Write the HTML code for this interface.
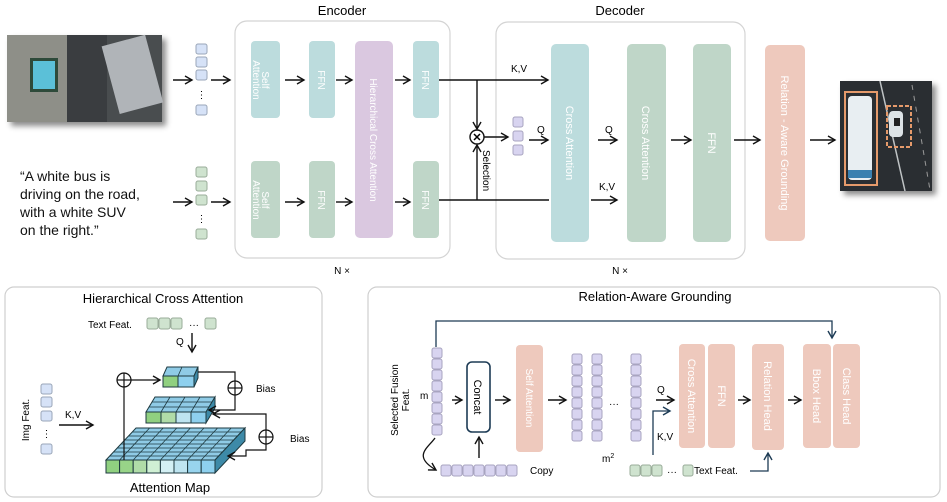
<!DOCTYPE html>
<html><head><meta charset="utf-8"><style>
html,body{margin:0;padding:0;background:#fff;}
svg{display:block;font-family:"Liberation Sans",sans-serif;}
.bl{font-size:10px;fill:#fff;}
</style></head><body>
<svg width="947" height="502" viewBox="0 0 947 502" xmlns="http://www.w3.org/2000/svg">
<defs>
<marker id="a" markerWidth="10" markerHeight="10" refX="8" refY="5" orient="auto" markerUnits="userSpaceOnUse"><path d="M1,1 L8,5 L1,9" fill="none" stroke="#111" stroke-width="1.4"/></marker>
<marker id="ab" markerWidth="10" markerHeight="10" refX="8" refY="5" orient="auto" markerUnits="userSpaceOnUse"><path d="M1,1 L8,5 L1,9" fill="none" stroke="#1d3b55" stroke-width="1.4"/></marker>
<filter id="sh" x="-10%" y="-10%" width="130%" height="130%"><feDropShadow dx="4" dy="4" stdDeviation="3" flood-color="#000" flood-opacity="0.45"/></filter>
</defs>

<!-- top-left image -->
<g filter="url(#sh)">
<rect x="7" y="35" width="155" height="87" fill="#4a4e50"/>
</g>
<rect x="7" y="35" width="60" height="87" fill="#8e8f88"/>
<rect x="30" y="58" width="28" height="34" fill="#2e4a3a"/>
<rect x="33" y="61" width="22" height="28" fill="#5bc0d8"/>
<rect x="67" y="35" width="40" height="87" fill="#3a3d40"/>
<rect x="110" y="40" width="45" height="70" fill="#b0b4b8" transform="rotate(-15 130 75)"/>

<!-- blue tokens top -->
<g fill="#d6e2f7" stroke="#9aa6b8" stroke-width="1">
<rect x="196" y="44" width="11" height="10" rx="2"/><rect x="196" y="57" width="11" height="10" rx="2"/><rect x="196" y="70" width="11" height="10" rx="2"/><rect x="196" y="105" width="11" height="10" rx="2"/>
</g>
<text x="201.5" y="98" font-size="10" text-anchor="middle">⋮</text>
<line x1="173" y1="80" x2="192" y2="80" stroke="#111" stroke-width="1.4" marker-end="url(#a)"/>
<line x1="211" y1="80" x2="230" y2="80" stroke="#111" stroke-width="1.4" marker-end="url(#a)"/>

<!-- text quote -->
<g font-size="14" fill="#111">
<text x="20" y="181">“A white bus is</text>
<text x="20" y="199">driving on the road,</text>
<text x="20" y="217">with a white SUV</text>
<text x="20" y="235">on the right.”</text>
</g>
<g fill="#cfe3cf" stroke="#9aac9a" stroke-width="1">
<rect x="196" y="167" width="11" height="10" rx="2"/><rect x="196" y="181" width="11" height="10" rx="2"/><rect x="196" y="195" width="11" height="10" rx="2"/><rect x="196" y="229" width="11" height="10" rx="2"/>
</g>
<text x="201.5" y="222" font-size="10" text-anchor="middle">⋮</text>
<line x1="173" y1="202" x2="192" y2="202" stroke="#111" stroke-width="1.4" marker-end="url(#a)"/>
<line x1="211" y1="202" x2="230" y2="202" stroke="#111" stroke-width="1.4" marker-end="url(#a)"/>

<!-- Encoder -->
<text x="342" y="15" font-size="13" text-anchor="middle">Encoder</text>
<rect x="235" y="21" width="215" height="237" rx="12" fill="#fff" stroke="#d4d4d4" stroke-width="1.2"/>
<rect x="251" y="41" width="29" height="77" rx="4" fill="#bcdcdd"/>
<rect x="309" y="41" width="26" height="77" rx="4" fill="#bcdcdd"/>
<rect x="355" y="41" width="38" height="197" rx="5" fill="#dac8e0"/>
<rect x="413" y="41" width="26" height="77" rx="4" fill="#bcdcdd"/>
<rect x="251" y="161" width="29" height="77" rx="4" fill="#bfd6c8"/>
<rect x="309" y="161" width="26" height="77" rx="4" fill="#bfd6c8"/>
<rect x="413" y="161" width="26" height="77" rx="4" fill="#bfd6c8"/>
<g class="bl">
<text transform="translate(262,80) rotate(90)" text-anchor="middle">Self</text>
<text transform="translate(253,80) rotate(90)" text-anchor="middle">Attention</text>
<text transform="translate(318,80) rotate(90)" text-anchor="middle">FFN</text>
<text transform="translate(422,80) rotate(90)" text-anchor="middle">FFN</text>
<text transform="translate(262,200) rotate(90)" text-anchor="middle">Self</text>
<text transform="translate(253,200) rotate(90)" text-anchor="middle">Attention</text>
<text transform="translate(318,200) rotate(90)" text-anchor="middle">FFN</text>
<text transform="translate(422,200) rotate(90)" text-anchor="middle">FFN</text>
<text transform="translate(370,140) rotate(90)" text-anchor="middle">Hierarchical Cross Attention</text>
</g>
<g stroke="#111" stroke-width="1.4" marker-end="url(#a)">
<line x1="285" y1="80" x2="304" y2="80"/><line x1="336" y1="80" x2="352" y2="80"/><line x1="395" y1="80" x2="410" y2="80"/>
<line x1="285" y1="202" x2="304" y2="202"/><line x1="336" y1="202" x2="352" y2="202"/><line x1="395" y1="202" x2="410" y2="202"/>
</g>
<text x="342" y="274" font-size="10" text-anchor="middle">N ×</text>

<!-- Decoder -->
<text x="620" y="15" font-size="13" text-anchor="middle">Decoder</text>
<rect x="496" y="22" width="249" height="237" rx="12" fill="#fff" stroke="#d4d4d4" stroke-width="1.2"/>
<text x="620" y="274" font-size="10" text-anchor="middle">N ×</text>

<!-- connectors -->
<line x1="439" y1="80" x2="548" y2="80" stroke="#111" stroke-width="1.4" marker-end="url(#a)"/>
<line x1="439" y1="200" x2="549" y2="200" stroke="#111" stroke-width="1.4"/>
<line x1="477" y1="80" x2="477" y2="129" stroke="#111" stroke-width="1.4" marker-end="url(#a)"/>
<line x1="477" y1="200" x2="477" y2="145" stroke="#111" stroke-width="1.4" marker-end="url(#a)"/>
<circle cx="477" cy="137" r="7" fill="#fff" stroke="#111" stroke-width="1.4"/>
<text x="477" y="141" font-size="11" font-weight="bold" text-anchor="middle">✕</text>
<line x1="484" y1="137" x2="508" y2="137" stroke="#111" stroke-width="1.4" marker-end="url(#a)"/>
<text transform="translate(483,150) rotate(90)" font-size="10">Selection</text>
<text x="519" y="72" font-size="10" text-anchor="middle">K,V</text>
<g fill="#d8d4f0" stroke="#a8a4c0" stroke-width="1">
<rect x="513" y="117" width="10" height="10" rx="2"/><rect x="513" y="131" width="10" height="10" rx="2"/><rect x="513" y="145" width="10" height="10" rx="2"/>
</g>
<line x1="529" y1="140" x2="548" y2="140" stroke="#111" stroke-width="1.4" marker-end="url(#a)"/>
<text x="537" y="133" font-size="10">Q</text>

<rect x="551" y="44" width="38" height="198" rx="5" fill="#bcdcdd"/>
<rect x="627" y="44" width="39" height="198" rx="5" fill="#bfd6c8"/>
<rect x="693" y="44" width="38" height="198" rx="5" fill="#bfd6c8"/>
<rect x="765" y="45" width="40" height="196" rx="5" fill="#eec9bd"/>
<g class="bl" font-size="11">
<text transform="translate(566,143) rotate(90)" text-anchor="middle" font-size="11">Cross Attention</text>
<text transform="translate(642,143) rotate(90)" text-anchor="middle" font-size="11">Cross Attention</text>
<text transform="translate(708,143) rotate(90)" text-anchor="middle" font-size="11">FFN</text>
<text transform="translate(781,143) rotate(90)" text-anchor="middle" font-size="11">Relation - Aware Grounding</text>
</g>
<g stroke="#111" stroke-width="1.4" marker-end="url(#a)">
<line x1="598" y1="140" x2="617" y2="140"/><line x1="671" y1="140" x2="691" y2="140"/><line x1="734" y1="140" x2="760" y2="140"/>
<line x1="591" y1="200" x2="617" y2="200"/><line x1="810" y1="140" x2="835" y2="140"/>
</g>
<text x="605" y="133" font-size="10">Q</text>
<text x="607" y="190" font-size="10" text-anchor="middle">K,V</text>

<!-- result image -->
<g filter="url(#sh)"><rect x="840" y="81" width="92" height="110" fill="#2c2f31"/></g>
<line x1="880" y1="81" x2="905" y2="191" stroke="#bfc3c5" stroke-width="1.5"/>
<line x1="912" y1="85" x2="930" y2="190" stroke="#999" stroke-width="1" stroke-dasharray="5,6"/>
<rect x="848" y="96" width="24" height="84" rx="4" fill="#e8eef2"/>
<rect x="848" y="170" width="24" height="8" fill="#3a80b0"/>
<rect x="889" y="111" width="14" height="26" rx="4" fill="#dde3e6"/>
<rect x="894" y="118" width="6" height="8" fill="#222"/>
<rect x="845" y="92" width="32" height="93" fill="none" stroke="#e59a6b" stroke-width="2"/>
<rect x="887" y="106" width="24" height="41" fill="none" stroke="#e59a6b" stroke-width="2" stroke-dasharray="4,2"/>

<!-- Bottom-left panel -->
<rect x="5" y="287" width="317" height="210" rx="9" fill="#fff" stroke="#cfcfcf" stroke-width="1.2"/>
<text x="163" y="303" font-size="13" text-anchor="middle">Hierarchical Cross Attention</text>
<text x="88" y="328" font-size="10">Text Feat.</text>
<g fill="#cfe3cf" stroke="#9aac9a" stroke-width="1">
<rect x="147" y="318" width="11" height="11" rx="2"/><rect x="159" y="318" width="11" height="11" rx="2"/><rect x="171" y="318" width="11" height="11" rx="2"/><rect x="205" y="318" width="11" height="11" rx="2"/>
</g>
<text x="194" y="328" font-size="10" text-anchor="middle">···</text>
<text x="176" y="345" font-size="10">Q</text>
<line x1="192" y1="333" x2="192" y2="352" stroke="#111" stroke-width="1.4" marker-end="url(#a)"/>
<text transform="translate(29,420) rotate(-90)" font-size="10" text-anchor="middle">Img Feat.</text>
<g fill="#d6e2f7" stroke="#9aa6b8" stroke-width="1">
<rect x="41" y="384" width="11" height="10" rx="2"/><rect x="41" y="397" width="11" height="10" rx="2"/><rect x="41" y="411" width="11" height="10" rx="2"/><rect x="41" y="444" width="11" height="10" rx="2"/>
</g>
<text x="46.5" y="437" font-size="10" text-anchor="middle">⋮</text>
<text x="65" y="418" font-size="10">K,V</text>
<line x1="59" y1="425" x2="93" y2="425" stroke="#111" stroke-width="1.4" marker-end="url(#a)"/>

<!-- bottom layer -->
<polygon points="106,460 136,428 245,428 215,460" fill="#8fcbe6" stroke="#1e3a40" stroke-width="1"/>
<g stroke="#1e3a40" stroke-width="0.8">
<line x1="110" y1="456" x2="219" y2="456"/><line x1="114" y1="452" x2="223" y2="452"/><line x1="117" y1="448" x2="226" y2="448"/><line x1="121" y1="444" x2="230" y2="444"/><line x1="125" y1="440" x2="234" y2="440"/><line x1="129" y1="436" x2="238" y2="436"/><line x1="132" y1="432" x2="241" y2="432"/>
<line x1="119.6" y1="460" x2="149.6" y2="428"/><line x1="133.2" y1="460" x2="163.2" y2="428"/><line x1="146.8" y1="460" x2="176.8" y2="428"/><line x1="160.4" y1="460" x2="190.4" y2="428"/><line x1="174" y1="460" x2="204" y2="428"/><line x1="187.6" y1="460" x2="217.6" y2="428"/><line x1="201.2" y1="460" x2="231.2" y2="428"/>
</g>
<polygon points="215,460 245,428 245,441 215,473" fill="#3d8aa8" stroke="#1e3a40" stroke-width="1"/>
<g stroke="#1e3a40" stroke-width="1">
<rect x="106" y="460" width="13.6" height="13" fill="#90d080"/><rect x="119.6" y="460" width="13.6" height="13" fill="#98d488"/><rect x="133.2" y="460" width="13.6" height="13" fill="#b0dca8"/><rect x="146.8" y="460" width="13.6" height="13" fill="#d0f0d4"/><rect x="160.4" y="460" width="13.6" height="13" fill="#d4f0f4"/><rect x="174" y="460" width="13.6" height="13" fill="#bee4f0"/><rect x="187.6" y="460" width="13.6" height="13" fill="#98d4ee"/><rect x="201.2" y="460" width="13.8" height="13" fill="#8ed0ee"/>
</g>
<!-- middle layer -->
<polygon points="146,412 155,397 215,397 206,412" fill="#8fcbe6" stroke="#1e3a40" stroke-width="1"/>
<g stroke="#1e3a40" stroke-width="0.8">
<line x1="149" y1="407" x2="209" y2="407"/><line x1="152" y1="402" x2="212" y2="402"/>
<line x1="161" y1="412" x2="170" y2="397"/><line x1="176" y1="412" x2="185" y2="397"/><line x1="191" y1="412" x2="200" y2="397"/>
</g>
<polygon points="206,412 215,397 215,408 206,423" fill="#3d8aa8" stroke="#1e3a40" stroke-width="1"/>
<g stroke="#1e3a40" stroke-width="1">
<rect x="146" y="412" width="15" height="11" fill="#90d080"/><rect x="161" y="412" width="15" height="11" fill="#b0dca8"/><rect x="176" y="412" width="15" height="11" fill="#bee4f0"/><rect x="191" y="412" width="15" height="11" fill="#8ed0ee"/>
</g>
<!-- top layer -->
<polygon points="163,376 167,367 198,367 194,376" fill="#8fcbe6" stroke="#1e3a40" stroke-width="1"/>
<line x1="178" y1="376" x2="182" y2="367" stroke="#1e3a40" stroke-width="0.8"/>
<polygon points="194,376 198,367 198,378 194,387" fill="#3d8aa8" stroke="#1e3a40" stroke-width="1"/>
<rect x="163" y="376" width="15" height="11" fill="#90d080" stroke="#1e3a40"/><rect x="178" y="376" width="16" height="11" fill="#8ed0ee" stroke="#1e3a40"/>
<!-- bias paths -->
<g fill="none" stroke="#111" stroke-width="1.2">
<line x1="124" y1="460" x2="124" y2="387"/>
<line x1="131" y1="380" x2="160" y2="380" marker-end="url(#a)"/>
<polyline points="198,372 235,372 235,381"/>
<polyline points="235,395 235,410 209,410" marker-end="url(#a)"/>
<polyline points="266,430 266,414 213,414" marker-end="url(#a)"/>
<polyline points="266,444 266,450 246,450 246,456 228,456" marker-end="url(#a)"/>
</g>
<g fill="#fff" stroke="#111" stroke-width="1.2">
<circle cx="124" cy="380" r="7"/><circle cx="235" cy="388" r="7"/><circle cx="266" cy="437" r="7"/>
</g>
<g stroke="#111" stroke-width="1.2">
<line x1="117" y1="380" x2="131" y2="380"/><line x1="124" y1="373" x2="124" y2="387"/>
<line x1="228" y1="388" x2="242" y2="388"/><line x1="235" y1="381" x2="235" y2="395"/>
<line x1="259" y1="437" x2="273" y2="437"/><line x1="266" y1="430" x2="266" y2="444"/>
</g>
<text x="256" y="392" font-size="10">Bias</text>
<text x="290" y="442" font-size="10">Bias</text>
<text x="170" y="492" font-size="13" text-anchor="middle">Attention Map</text>

<!-- Bottom-right panel -->
<rect x="368" y="287" width="572" height="210" rx="9" fill="#fff" stroke="#cfcfcf" stroke-width="1.2"/>
<text x="655" y="301" font-size="13" text-anchor="middle">Relation-Aware  Grounding</text>
<polyline points="436,347 436,321 832,321 832,338" fill="none" stroke="#1d3b55" stroke-width="1.3" marker-end="url(#ab)"/>
<text transform="translate(398,400) rotate(-90)" font-size="10" text-anchor="middle">Selected Fusion</text>
<text transform="translate(409,400) rotate(-90)" font-size="10" text-anchor="middle">Feat.</text>
<text x="420" y="399" font-size="10">m</text>
<g fill="#d8d4f0" stroke="#a8a4c0" stroke-width="1">
<rect x="432" y="348" width="10" height="10" rx="2"/><rect x="432" y="359" width="10" height="10" rx="2"/><rect x="432" y="370" width="10" height="10" rx="2"/><rect x="432" y="381" width="10" height="10" rx="2"/><rect x="432" y="392" width="10" height="10" rx="2"/><rect x="432" y="403" width="10" height="10" rx="2"/><rect x="432" y="414" width="10" height="10" rx="2"/><rect x="432" y="425" width="10" height="10" rx="2"/>
<rect x="441" y="465" width="10" height="11" rx="2"/><rect x="452" y="465" width="10" height="11" rx="2"/><rect x="463" y="465" width="10" height="11" rx="2"/><rect x="474" y="465" width="10" height="11" rx="2"/><rect x="485" y="465" width="10" height="11" rx="2"/><rect x="496" y="465" width="10" height="11" rx="2"/><rect x="507" y="465" width="10" height="11" rx="2"/>
</g>
<path d="M435,438 C428,448 412,456 436,470" fill="none" stroke="#111" stroke-width="1.3" marker-end="url(#a)"/>
<text x="530" y="474" font-size="10">Copy</text>
<line x1="452" y1="400" x2="462" y2="400" stroke="#111" stroke-width="1.4" marker-end="url(#a)"/>
<rect x="467" y="362" width="23" height="70" rx="5" fill="#fff" stroke="#1d3b55" stroke-width="1.6"/>
<text transform="translate(474,397) rotate(90)" font-size="11" text-anchor="middle">Concat</text>
<line x1="479" y1="458" x2="479" y2="437" stroke="#111" stroke-width="1.4" marker-end="url(#a)"/>
<line x1="495" y1="400" x2="510" y2="400" stroke="#111" stroke-width="1.4" marker-end="url(#a)"/>
<rect x="516" y="345" width="27" height="107" rx="4" fill="#eec9bd"/>
<text transform="translate(526,398) rotate(90)" class="bl" font-size="11" text-anchor="middle">Self Attention</text>
<line x1="548" y1="400" x2="566" y2="400" stroke="#111" stroke-width="1.4" marker-end="url(#a)"/>
<g fill="#d8d4f0" stroke="#a8a4c0" stroke-width="1">
<rect x="572" y="354" width="10" height="10" rx="2"/><rect x="572" y="365" width="10" height="10" rx="2"/><rect x="572" y="376" width="10" height="10" rx="2"/><rect x="572" y="387" width="10" height="10" rx="2"/><rect x="572" y="398" width="10" height="10" rx="2"/><rect x="572" y="409" width="10" height="10" rx="2"/><rect x="572" y="420" width="10" height="10" rx="2"/><rect x="572" y="431" width="10" height="10" rx="2"/>
<rect x="592" y="354" width="10" height="10" rx="2"/><rect x="592" y="365" width="10" height="10" rx="2"/><rect x="592" y="376" width="10" height="10" rx="2"/><rect x="592" y="387" width="10" height="10" rx="2"/><rect x="592" y="398" width="10" height="10" rx="2"/><rect x="592" y="409" width="10" height="10" rx="2"/><rect x="592" y="420" width="10" height="10" rx="2"/><rect x="592" y="431" width="10" height="10" rx="2"/>
<rect x="631" y="354" width="10" height="10" rx="2"/><rect x="631" y="365" width="10" height="10" rx="2"/><rect x="631" y="376" width="10" height="10" rx="2"/><rect x="631" y="387" width="10" height="10" rx="2"/><rect x="631" y="398" width="10" height="10" rx="2"/><rect x="631" y="409" width="10" height="10" rx="2"/><rect x="631" y="420" width="10" height="10" rx="2"/><rect x="631" y="431" width="10" height="10" rx="2"/>
</g>
<text x="614" y="407" font-size="10" text-anchor="middle">···</text>
<text x="602" y="462" font-size="10">m<tspan font-size="7" dy="-4">2</tspan></text>
<text x="657" y="393" font-size="10">Q</text>
<line x1="656" y1="400" x2="674" y2="400" stroke="#111" stroke-width="1.4" marker-end="url(#a)"/>
<polyline points="653,455 653,411 670,411" fill="none" stroke="#1d3b55" stroke-width="1.3" marker-end="url(#ab)"/>
<text x="657" y="440" font-size="10">K,V</text>
<rect x="679" y="344" width="26" height="104" rx="4" fill="#eec9bd"/>
<rect x="708" y="344" width="27" height="104" rx="4" fill="#eec9bd"/>
<rect x="752" y="344" width="32" height="106" rx="4" fill="#eec9bd"/>
<rect x="803" y="344" width="28" height="104" rx="4" fill="#eec9bd"/>
<rect x="833" y="344" width="27" height="104" rx="4" fill="#eec9bd"/>
<g class="bl" font-size="11">
<text transform="translate(688,396) rotate(90)" text-anchor="middle" font-size="11">Cross Attention</text>
<text transform="translate(718,396) rotate(90)" text-anchor="middle" font-size="11">FFN</text>
<text transform="translate(764,396) rotate(90)" text-anchor="middle" font-size="11">Relation Head</text>
<text transform="translate(813,396) rotate(90)" text-anchor="middle" font-size="11">Bbox Head</text>
<text transform="translate(843,396) rotate(90)" text-anchor="middle" font-size="11">Class Head</text>
</g>
<line x1="738" y1="400" x2="750" y2="400" stroke="#111" stroke-width="1.4" marker-end="url(#a)"/>
<line x1="788" y1="400" x2="801" y2="400" stroke="#111" stroke-width="1.4" marker-end="url(#a)"/>
<g fill="#cfe3cf" stroke="#9aac9a" stroke-width="1">
<rect x="630" y="465" width="10" height="11" rx="2"/><rect x="641" y="465" width="10" height="11" rx="2"/><rect x="652" y="465" width="10" height="11" rx="2"/><rect x="683" y="465" width="10" height="11" rx="2"/>
</g>
<text x="672" y="475" font-size="10" text-anchor="middle">···</text>
<text x="694" y="474" font-size="10">Text Feat.</text>
<polyline points="750,471 768,471 768,453" fill="none" stroke="#1d3b55" stroke-width="1.3" marker-end="url(#ab)"/>
</svg>
</body></html>
